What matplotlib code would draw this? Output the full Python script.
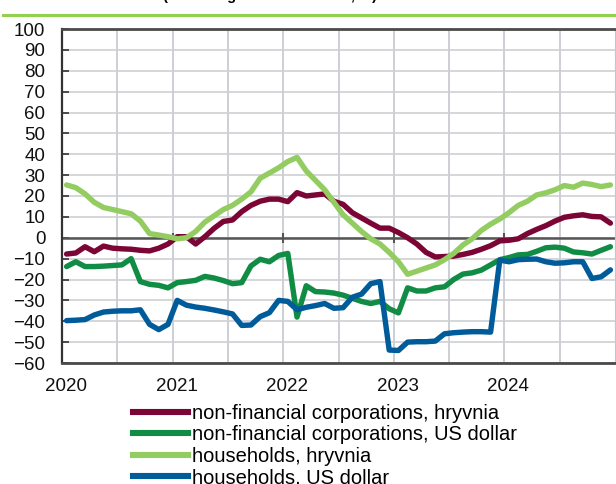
import matplotlib.pyplot as plt
import matplotlib.lines as mlines
import matplotlib.transforms as mtrans
import numpy as np

plt.rcParams["font.family"] = ["Liberation Sans", "DejaVu Sans"]

# monthly observations, Jan 2020 - Dec 2024 (yoy, %)
start_year = 2020
n_months = 60

nfc_uah = [-7.8, -7.3, -4.3, -6.7, -4.0, -5.0, -5.3, -5.5, -6.0, -6.3, -5.0, -3.0,
           0.5, 0.5, -3.0, 0.5, 4.5, 7.8, 8.5, 12.5, 15.5, 17.5, 18.5, 18.5,
           17.3, 21.6, 20.0, 20.5, 21.0, 17.5, 16.0, 12.0, 9.5, 7.0, 4.6, 4.6,
           2.5, 0.0, -3.0, -7.0, -9.2, -9.0, -8.8, -8.0, -7.0, -5.5, -3.8, -1.5,
           -1.2, -0.5, 2.0, 4.0, 5.8, 8.0, 9.8, 10.5, 11.0, 10.2, 10.0, 7.0]
nfc_usd = [-13.8, -11.5, -13.8, -13.8, -13.6, -13.3, -13.0, -10.0, -21.0, -22.3, -22.8, -24.0,
           -21.5, -21.0, -20.4, -18.5, -19.3, -20.5, -22.0, -21.5, -13.5, -10.3, -11.5, -8.5,
           -7.5, -38.0, -23.0, -25.8, -26.0, -26.5, -27.5, -29.0, -30.5, -31.5, -30.5, -34.0,
           -36.0, -24.0, -25.5, -25.5, -24.0, -23.5, -20.0, -17.4, -16.8, -15.5, -13.0, -10.5,
           -9.5, -8.2, -8.0, -6.5, -4.8, -4.5, -5.0, -6.8, -7.2, -7.8, -6.0, -4.3]
hh_uah = [25.3, 24.0, 21.0, 17.0, 14.5, 13.5, 12.5, 11.5, 8.0, 2.0, 1.3, 0.5,
          -0.5, 0.0, 3.0, 7.5, 10.5, 13.5, 15.5, 18.5, 22.0, 28.5, 31.0, 33.5,
          36.5, 38.5, 32.0, 27.5, 23.0, 17.0, 11.0, 7.0, 3.0, -0.5, -3.0, -7.0,
          -11.5, -17.5, -16.0, -14.5, -13.0, -10.5, -7.5, -3.5, -0.5, 3.5, 6.5, 9.0,
          12.0, 15.5, 17.5, 20.5, 21.5, 23.0, 25.0, 24.2, 26.2, 25.5, 24.5, 25.3]
hh_usd = [-39.7, -39.5, -39.2, -37.0, -35.6, -35.2, -35.0, -35.0, -34.5, -41.5, -44.0, -41.5,
          -30.0, -32.3, -33.2, -33.8, -34.6, -35.5, -36.5, -42.0, -41.8, -37.8, -35.9, -30.0,
          -30.5, -34.5, -33.3, -32.5, -31.5, -33.8, -33.5, -28.5, -27.0, -22.0, -21.0, -53.8,
          -54.0, -50.0, -49.8, -49.8, -49.5, -46.0, -45.5, -45.2, -45.0, -45.0, -45.2, -10.7,
          -11.5, -10.5, -10.3, -10.2, -11.5, -12.2, -12.0, -11.5, -11.5, -19.5, -18.7, -15.4]

labels = ["non-financial corporations, hryvnia",
          "non-financial corporations, US dollar",
          "households, hryvnia",
          "households, US dollar"]
colors = ["#7B0535", "#108C45", "#93CC60", "#005B9A"]
years = [2020, 2021, 2022, 2023, 2024]

x = start_year + (np.arange(n_months) + 0.5) / 12

fig = plt.figure(figsize=(6.16, 4.84), dpi=100)
ax = fig.add_axes([62 / 616, 1 - 363 / 484, 553 / 616, 334 / 484])

ax.set_xlim(2020, 2025)
ax.set_ylim(-60, 100)
ax.set_yticks(np.arange(-60, 101, 10))
ax.set_xticks(years)
ax.set_xticks(np.arange(2020.5, 2025, 1.0), minor=True)

ax.grid(axis="y", color="#CDD0D3", linewidth=1.2)
ax.grid(axis="x", which="both", color="#C3C7CC", linewidth=1.2)
ax.set_axisbelow(True)

for vals, col, lab in zip([nfc_uah, nfc_usd, hh_uah, hh_usd], colors, labels):
    ax.plot(x, vals, color=col, linewidth=3.9, label=lab, solid_capstyle="round")

ax.axhline(0, color="#555555", linewidth=1.8, zorder=1.5)
ax.vlines(years[1:], -2.5, 2.5, color="#555555", linewidth=1.5, zorder=1.5)

for side in ["top", "bottom"]:
    ax.spines[side].set_color("#4A4A4A")
    ax.spines[side].set_linewidth(2.0)
ax.spines["left"].set_color("#333333")
ax.spines["left"].set_linewidth(1.6)
ax.spines["right"].set_color("#C3C7CC")

ax.tick_params(axis="y", direction="in", length=5, width=1.2, color="#333333",
               labelsize=13.5, pad=12, labelcolor="#111111")
ax.tick_params(axis="x", which="both", length=0, labelsize=13.5, pad=11, labelcolor="#111111")
shift = mtrans.ScaledTranslation(4 / 100, 0, fig.dpi_scale_trans)
for lbl in ax.get_xticklabels():
    lbl.set_transform(lbl.get_transform() + shift)

handles = [mlines.Line2D([], [], color=c, linewidth=4.4) for c in colors]
fig.legend(handles, labels, loc="upper left", bbox_to_anchor=(133 / 616, 1 - 404 / 484),
           frameon=False, fontsize=14.5, handlelength=2.75, handletextpad=0.2,
           labelspacing=0.12, borderpad=0, borderaxespad=0)

fig.text(270 / 616, 1.0, "(excluding insolvent banks, %)", ha="center", va="baseline",
         fontsize=10.5, fontweight="bold")
fig.add_artist(mlines.Line2D([3 / 616, 1], [1 - 15 / 484] * 2, color="#92D050",
                             linewidth=2.2, transform=fig.transFigure))

fig.savefig("out.png", dpi=100)
